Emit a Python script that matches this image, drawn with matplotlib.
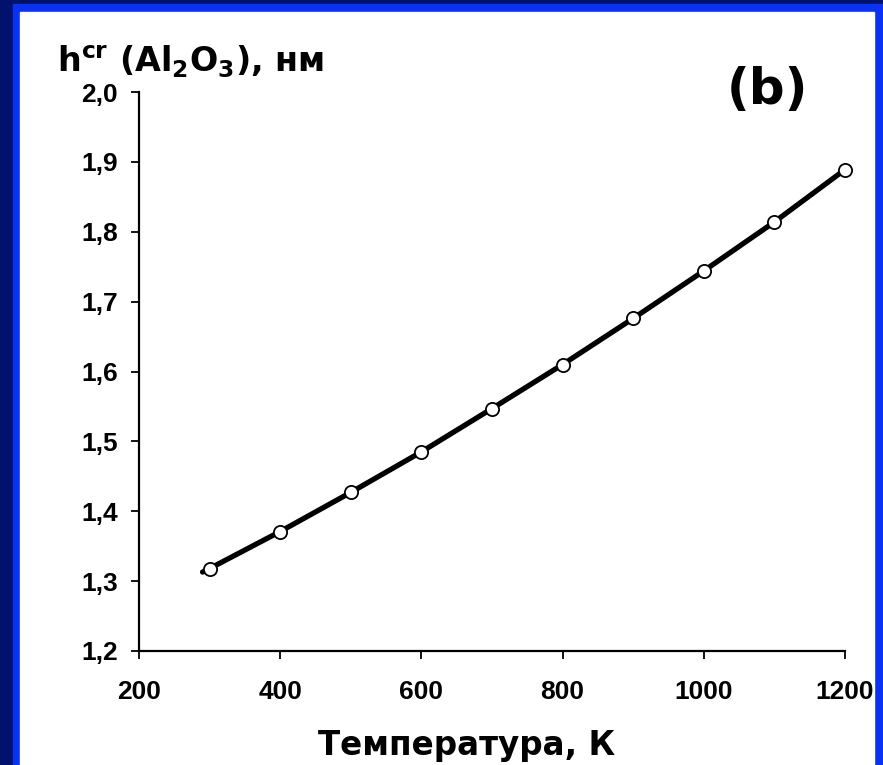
import matplotlib.pyplot as plt
from matplotlib.patches import Rectangle
from matplotlib.ticker import FuncFormatter

# Data
temp = [300, 400, 500, 600, 700, 800, 900, 1000, 1100, 1200]
h_cr = [1.318, 1.371, 1.427, 1.485, 1.547, 1.610, 1.676, 1.744, 1.814, 1.889]

# the drawn curve starts a little before the first marker
line_temp = [290] + temp
line_h = [1.313] + h_cr

x_ticks = [200, 400, 600, 800, 1000, 1200]
y_ticks = [1.2, 1.3, 1.4, 1.5, 1.6, 1.7, 1.8, 1.9, 2.0]

W, H = 883, 765
fig = plt.figure(figsize=(W / 100, H / 100), dpi=100)
fig.patch.set_facecolor('#00126e')

# blue frame and white panel
fig.add_artist(Rectangle((13 / W, 0), (W - 13) / W, (H - 4) / H,
                         transform=fig.transFigure, color='#0a32f5', zorder=0))
fig.add_artist(Rectangle((20 / W, 0), (874 - 20) / W, (H - 12) / H,
                         transform=fig.transFigure, color='white', zorder=0))

ax = fig.add_axes([139 / W, (H - 651) / H, (845 - 139) / W, (651 - 92) / H])
ax.patch.set_alpha(0)

ax.plot(line_temp, line_h, color='black', lw=3.8, solid_capstyle='round',
        zorder=2, clip_on=False)
ax.plot(temp, h_cr, ls='none', marker='o', ms=9.5, mfc='white', mec='black',
        mew=1.3, zorder=3, clip_on=False)

ax.set_xlim(200, 1200)
ax.set_ylim(1.2, 2.0)
ax.set_xticks(x_ticks)
ax.set_yticks(y_ticks)
ax.yaxis.set_major_formatter(FuncFormatter(lambda v, p: f"{v:.1f}".replace('.', ',')))

for s in ['top', 'right']:
    ax.spines[s].set_visible(False)
for s in ['left', 'bottom']:
    ax.spines[s].set_linewidth(1.6)

ax.tick_params(axis='both', direction='out', length=6, width=1.3, color='black')
ax.tick_params(axis='x', pad=15)
ax.tick_params(axis='y', pad=9)
for lab in ax.get_xticklabels() + ax.get_yticklabels():
    lab.set_fontfamily('Liberation Sans')
    lab.set_fontweight('bold')
    lab.set_fontsize(19)

fig.text(57 / W, 1 - 72 / H, r'$\mathbf{h^{cr}}$ $\mathbf{(Al_2O_3)}$, нм',
         fontsize=24, fontweight='bold', family='DejaVu Sans', ha='left', va='baseline')
fig.text(767 / W, 1 - 104 / H, '(b)', fontsize=36, fontweight='bold',
         family='DejaVu Sans', ha='center', va='baseline')
fig.text(467 / W, 1 - 755 / H, 'Температура, К', fontsize=23.5, fontweight='bold',
         family='DejaVu Sans', ha='center', va='baseline')

fig.savefig('out.png', dpi=100, facecolor=fig.get_facecolor())
